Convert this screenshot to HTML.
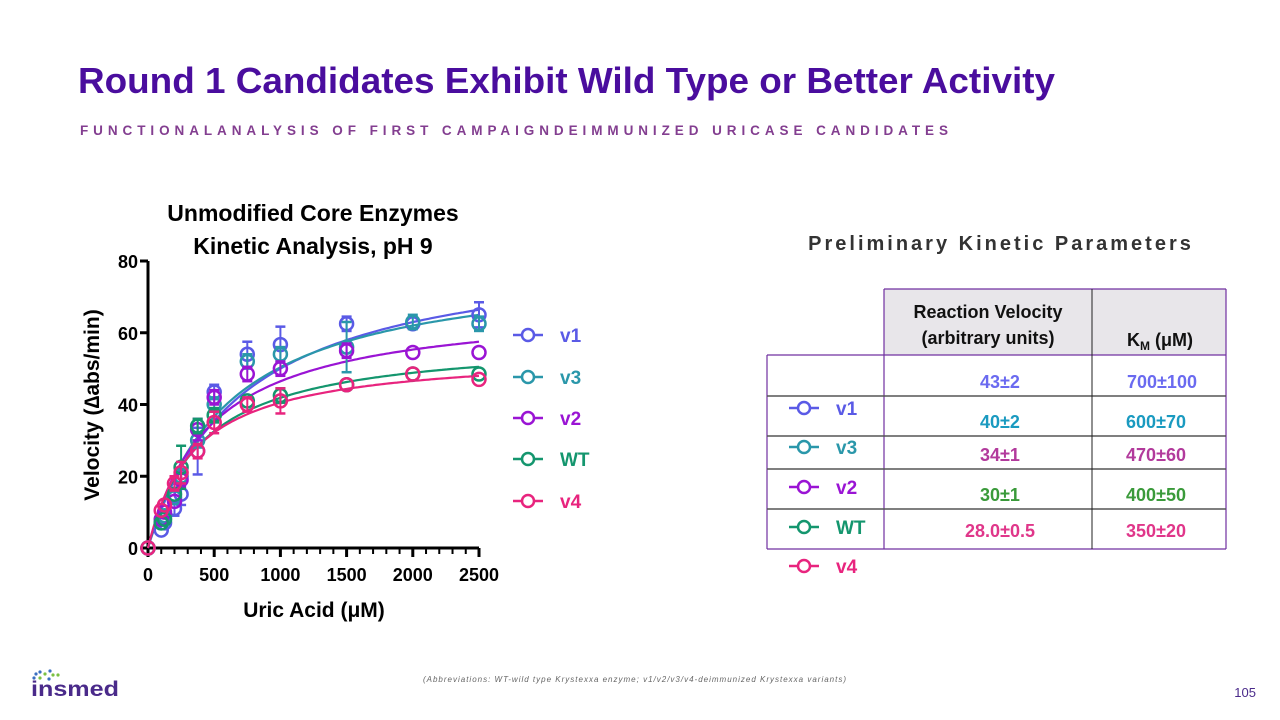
<!DOCTYPE html>
<html><head><meta charset="utf-8"><style>
html,body{margin:0;padding:0;background:#fff;}
svg{display:block;font-family:"Liberation Sans",sans-serif;}
</style></head><body>
<svg id="page" width="1280" height="720" viewBox="0 0 1280 720" xmlns="http://www.w3.org/2000/svg">
<text x="78" y="93" font-size="36" font-weight="bold" fill="#4a0d9e" textLength="977" lengthAdjust="spacingAndGlyphs">Round 1 Candidates Exhibit Wild Type or Better Activity</text>
<text x="80" y="135" font-size="13.5" font-weight="bold" fill="#833e90" textLength="868" lengthAdjust="spacing">FUNCTIONALANALYSIS OF FIRST CAMPAIGNDEIMMUNIZED URICASE CANDIDATES</text>

<text x="313" y="221" font-size="23" font-weight="bold" text-anchor="middle" fill="#000">Unmodified Core Enzymes</text>
<text x="313" y="254" font-size="23" font-weight="bold" text-anchor="middle" fill="#000">Kinetic Analysis, pH 9</text>
<text transform="translate(99,405) rotate(-90)" font-size="21" font-weight="bold" text-anchor="middle">Velocity (∆abs/min)</text>
<text x="314" y="617" font-size="21" font-weight="bold" text-anchor="middle">Uric Acid (μM)</text>
<g id="axes"></g>
<g id="curves"></g>
<g id="points"></g>
<g id="legend"></g>

<text x="1001" y="250" font-size="20" font-weight="bold" fill="#333" text-anchor="middle" letter-spacing="3">Preliminary Kinetic Parameters</text>
<g id="table">
<rect x="884" y="289" width="342" height="66" fill="#e8e6ea"/>
<g stroke="#7030a0" stroke-width="1.2" fill="none">
<line x1="884" y1="289" x2="1226" y2="289"/>
<line x1="884" y1="289" x2="884" y2="549"/>
<line x1="1226" y1="289" x2="1226" y2="549"/>
<line x1="767" y1="355" x2="1226" y2="355"/>
<line x1="767" y1="355" x2="767" y2="549"/>
<line x1="767" y1="549" x2="1226" y2="549"/>
</g>
<g stroke="#555" stroke-width="1.5">
<line x1="767" y1="396" x2="1226" y2="396"/>
<line x1="767" y1="436" x2="1226" y2="436"/>
<line x1="767" y1="469" x2="1226" y2="469"/>
<line x1="767" y1="509" x2="1226" y2="509"/>
<line x1="1092" y1="289" x2="1092" y2="549" stroke="#222" stroke-width="1"/>
</g>
<g font-size="18" font-weight="bold" text-anchor="middle">
<text x="988" y="318" fill="#111">Reaction Velocity</text>
<text x="988" y="344" fill="#111">(arbitrary units)</text>
<text x="1160" y="346" fill="#111">K<tspan font-size="12" dy="4">M</tspan><tspan dy="-4"> (μM)</tspan></text>
<text x="1000" y="388" fill="#6a6af0">43±2</text><text x="1162" y="388" fill="#6a6af0">700±100</text>
<text x="1000" y="428" fill="#1a9ac0">40±2</text><text x="1156" y="428" fill="#1a9ac0">600±70</text>
<text x="1000" y="461" fill="#b23a9c">34±1</text><text x="1156" y="461" fill="#b23a9c">470±60</text>
<text x="1000" y="501" fill="#3a9a3a">30±1</text><text x="1156" y="501" fill="#3a9a3a">400±50</text>
<text x="1000" y="537" fill="#e0368a">28.0±0.5</text><text x="1156" y="537" fill="#e0368a">350±20</text>
</g>
</g>
<g id="legend2"></g>

<text x="635" y="682" font-size="8" font-style="italic" fill="#666" text-anchor="middle" letter-spacing="1">(Abbreviations: WT-wild type Krystexxa enzyme; v1/v2/v3/v4-deimmunized Krystexxa variants)</text>
<text x="1256" y="697" font-size="13" fill="#4a2a8a" text-anchor="end">105</text>
<g>
<circle cx="36" cy="674" r="1.6" fill="#3a6fc0"/><circle cx="40" cy="672" r="1.6" fill="#3a6fc0"/><circle cx="45" cy="674" r="1.6" fill="#7bc043"/><circle cx="50" cy="671" r="1.6" fill="#3a6fc0"/><circle cx="53" cy="675" r="1.6" fill="#7bc043"/><circle cx="58" cy="675" r="1.6" fill="#7bc043"/><circle cx="49" cy="679" r="1.6" fill="#3a6fc0"/><circle cx="40" cy="678" r="1.6" fill="#7bc043"/><circle cx="34" cy="678" r="1.6" fill="#3a6fc0"/>
<text x="31" y="696" font-size="21" font-weight="bold" fill="#4a2a8a" textLength="88" lengthAdjust="spacingAndGlyphs">insmed</text>
</g>
</svg>
<script>
const xValues = [0,100,125,200,250,375,500,750,1000,1500,2000,2500];
const seriesNames = ["v1","v3","v2","WT","v4"];
const v1Values = [0,5,7,11,15,27,43.5,54,56.7,62.5,62.5,65];
const v3Values = [0,7,9,14,20,30,40,52,54,56,63,62.5];
const v2Values = [0,8,10,13,19,33,42,48.5,50,55,54.5,54.5];
const wtValues = [0,7,8,15,22.5,34,37,41,42.5,45.5,48.5,48.5];
const v4Values = [0,10.5,12,18,21,27,35,40,41,45.5,48.5,47];
const v1Err = [0,1,1,2,3,6.5,2,3.5,5,2,1.5,3.5];
const v3Err = [0,1,1,1,2,2,2,2,2,7,2,2];
const v2Err = [0,1,1,1,2,3,2,2,2,2,1,1];
const wtErr = [0,1,1,1,6,2,2,1,2,1,1,1];
const v4Err = [0,1,1,2,3,2,3,2,3.5,1,1,1];
const fitVmax = [85,80.6,68.3,58.6,54.7];
const fitKm = [700,600,470,400,350];
const xTicks = [0,500,1000,1500,2000,2500];
const yTicks = [0,20,40,60,80];
const colors = ["#5a5ae6","#2a97aa","#9a14d4","#14966e","#e8247e"];
const allVals=[v1Values,v3Values,v2Values,wtValues,v4Values];
const allErr=[v1Err,v3Err,v2Err,wtErr,v4Err];
const NS="http://www.w3.org/2000/svg";
const X0=148,X1=479,Y0=548,Y1=261;
const xs=v=>X0+(v/2500)*(X1-X0);
const ys=v=>Y0-(v/80)*(Y0-Y1);
function mk(tag,attrs,parent){const e=document.createElementNS(NS,tag);for(const k in attrs)e.setAttribute(k,attrs[k]);parent.appendChild(e);return e;}
const axes=document.getElementById('axes');
let e=mk('line',{x1:X0,y1:Y0,x2:X0,y2:Y1,stroke:'#000','stroke-width':3},axes);


e=mk('line',{x1:X0,y1:Y0,x2:X1,y2:Y0,stroke:'#000','stroke-width':3},axes);


yTicks.forEach(t=>{mk('line',{x1:X0-8,x2:X0,y1:ys(t),y2:ys(t),stroke:'#000','stroke-width':3},axes);
const tx=mk('text',{x:X0-10,y:ys(t)+7,'font-size':18,'font-weight':'bold','text-anchor':'end'},axes);tx.textContent=t;

});
for(let v=0;v<=2500;v+=100){const big=v%500===0;mk('line',{x1:xs(v),x2:xs(v),y1:Y0,y2:Y0+(big?9:6),stroke:'#000','stroke-width':big?3:2},axes);}
xTicks.forEach(t=>{const tx=mk('text',{x:xs(t),y:Y0+33,'font-size':18,'font-weight':'bold','text-anchor':'middle'},axes);tx.textContent=t;

});
const curves=document.getElementById('curves'),pts=document.getElementById('points');
seriesNames.forEach((n,i)=>{
 let d='';for(let x=0;x<=2500;x+=20){const y=fitVmax[i]*x/(fitKm[i]+x);d+=(x?'L':'M')+xs(x).toFixed(1)+','+ys(y).toFixed(1);}
 const p=mk('path',{d:d,fill:'none',stroke:colors[i],'stroke-width':2.2},curves);
 
 
 const g=mk('g',{},pts);
 
 
 xValues.forEach((x,j)=>{const v=allVals[i][j],er=allErr[i][j];const cx=xs(x),cy=ys(v);
  if(er>1.5){mk('line',{x1:cx,x2:cx,y1:ys(v+er),y2:ys(v-er),stroke:colors[i],'stroke-width':2},g);
   mk('line',{x1:cx-5,x2:cx+5,y1:ys(v+er),y2:ys(v+er),stroke:colors[i],'stroke-width':2.5},g);
   mk('line',{x1:cx-5,x2:cx+5,y1:ys(v-er),y2:ys(v-er),stroke:colors[i],'stroke-width':2.5},g);}
  const c=mk('circle',{cx:cx,cy:cy,r:6.5,fill:'none',stroke:colors[i],'stroke-width':2.5},g);
  
  });
});
function legend(id,x,ys0,fs){const L=document.getElementById(id);seriesNames.forEach((n,i)=>{const y=ys0[i];
 const g=mk('g',{},L);
 
 
 mk('line',{x1:x,x2:x+30,y1:y,y2:y,stroke:colors[i],'stroke-width':2.5},g);
 mk('circle',{cx:x+15,cy:y,r:6,fill:'#fff',stroke:colors[i],'stroke-width':2.5},g);
 const t=mk('text',{x:x+47,y:y+7,'font-size':fs,'font-weight':'bold',fill:colors[i]},g);t.textContent=n;});}
legend('legend',513,[335,377,418,459,501],19);
legend('legend2',789,[408,447,487,527,566],19);
</script>
</body></html>
